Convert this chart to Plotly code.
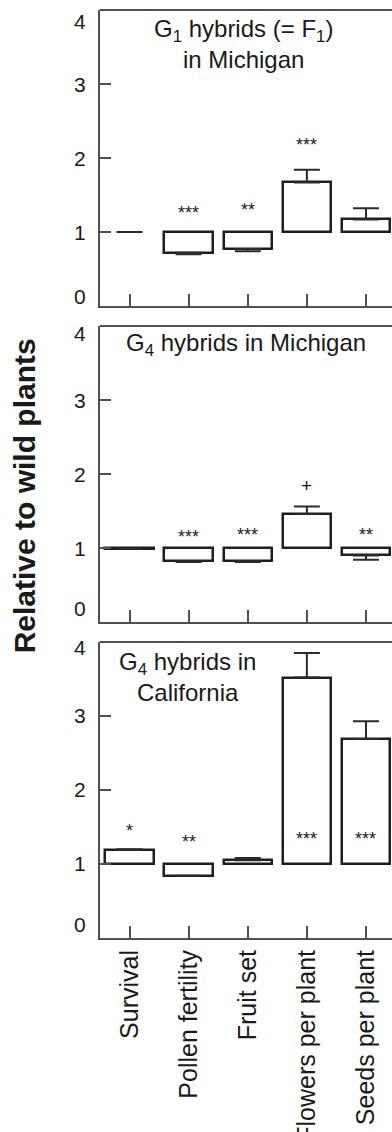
import plotly.graph_objects as go

categories = ["Survival", "Pollen fertility", "Fruit set", "Flowers per plant", "Seeds per plant"]
y_ticks = [0, 1, 2, 3, 4]

panel_titles = [
    "G<sub>1</sub> hybrids (= F<sub>1</sub>)<br>in Michigan",
    "G<sub>4</sub> hybrids in Michigan",
    "G<sub>4</sub> hybrids in<br>California",
]

# Relative values (hybrid / wild), standard errors, significance labels
g1_mi_values = [1.00, 0.72, 0.77, 1.67, 1.17]
g1_mi_err = [0.00, 0.02, 0.03, 0.17, 0.15]
g1_mi_sig = ["", "***", "**", "***", ""]
g1_mi_sig_y = [None, 1.32, 1.36, 2.25, None]

g4_mi_values = [0.99, 0.82, 0.82, 1.46, 0.90]
g4_mi_err = [0.00, 0.01, 0.01, 0.10, 0.06]
g4_mi_sig = ["", "***", "***", "+", "**"]
g4_mi_sig_y = [None, 1.22, 1.24, 1.85, 1.24]

g4_ca_values = [1.19, 0.84, 1.05, 3.52, 2.69]
g4_ca_err = [0.01, 0.00, 0.03, 0.33, 0.24]
g4_ca_sig = ["*", "**", "", "***", "***"]
g4_ca_sig_y = [1.52, 1.36, None, 1.41, 1.41]

panels = [
    (g1_mi_values, g1_mi_err, g1_mi_sig, g1_mi_sig_y),
    (g4_mi_values, g4_mi_err, g4_mi_sig, g4_mi_sig_y),
    (g4_ca_values, g4_ca_err, g4_ca_sig, g4_ca_sig_y),
]

FONT = "Liberation Sans, Arial, Helvetica, sans-serif"
AXIS_COL = "#505050"
BAR_COL = "#1e1e1e"
TXT = "#1a1a1a"
BASELINE = 1.0

domains = [[0.68103, 1.0], [0.34052, 0.65948], [0.0, 0.31897]]
title_pos = [(0.493, 0.885), (0.50, 0.936), (0.30, 0.882)]
# vertical pixel shifts of the end tick labels toward the panel interior
label_shift = [{4: -11, 0: 10}, {4: -7, 0: 13}, {4: -6, 0: 13}]

fig = go.Figure()
x_idx = list(range(len(categories)))

annotations = []
shapes = []
for p, (vals, errs, sig, sig_y) in enumerate(panels):
    sfx = "" if p == 0 else str(p + 1)
    xa, ya = "x" + sfx, "y" + sfx
    fig.add_trace(go.Bar(
        x=x_idx, y=[(v - BASELINE) if v != BASELINE else None for v in vals],
        base=BASELINE, width=0.82,
        marker=dict(color="white", line=dict(color=BAR_COL, width=2.5)),
        xaxis=xa, yaxis=ya, showlegend=False, hoverinfo="skip",
    ))
    up = [e if v >= BASELINE else 0 for v, e in zip(vals, errs)]
    dn = [e if v < BASELINE else 0 for v, e in zip(vals, errs)]
    fig.add_trace(go.Scatter(
        x=x_idx, y=vals, mode="markers",
        marker=dict(size=1, opacity=0),
        error_y=dict(type="data", symmetric=False, array=up, arrayminus=dn,
                     width=13, thickness=2, color="#2a2a2a"),
        xaxis=xa, yaxis=ya, showlegend=False, hoverinfo="skip",
    ))
    for i, s in enumerate(sig):
        if s:
            is_star = "*" in s
            annotations.append(dict(
                x=i, y=sig_y[i], xref=xa, yref=ya, text=s, showarrow=False,
                font=dict(family=FONT, size=18 if is_star else 19, color=TXT),
                xanchor="center", yanchor="middle",
                yshift=-5 if is_star else 0,
            ))
    tx, ty = title_pos[p]
    annotations.append(dict(
        x=tx, y=ty, xref=xa + " domain", yref=ya + " domain",
        text=panel_titles[p], showarrow=False, align="center",
        font=dict(family=FONT, size=24, color=TXT),
        xanchor="center", yanchor="middle",
    ))
    for t in y_ticks:
        annotations.append(dict(
            x=0, y=t, xref=xa + " domain", yref=ya, text=str(t), showarrow=False,
            font=dict(family=FONT, size=21, color=TXT),
            xanchor="right", yanchor="middle", xshift=-12,
            yshift=label_shift[p].get(t, 0),
        ))
    shapes.append(dict(type="line", xref=xa + " domain", yref=ya + " domain",
                       x0=0, x1=1, y0=1, y1=1,
                       line=dict(color=AXIS_COL, width=2)))

annotations.append(dict(
    x=-0.26, y=0.476, xref="paper", yref="paper",
    text="<b>Relative to wild plants</b>", textangle=-90, showarrow=False,
    font=dict(family=FONT, size=30, color=TXT),
    xanchor="center", yanchor="middle",
))

layout = dict(
    width=392, height=1132,
    margin=dict(l=100, r=0, t=10, b=194, pad=0),
    paper_bgcolor="white", plot_bgcolor="white",
    template="none",
    bargap=0,
    annotations=annotations, shapes=shapes,
    font=dict(family=FONT, color=TXT),
)
for p in range(3):
    sfx = "" if p == 0 else str(p + 1)
    layout["xaxis" + sfx] = dict(
        domain=[0, 1], anchor="y" + sfx, range=[-0.5, 4.44],
        tickmode="array", tickvals=x_idx, ticktext=categories,
        showticklabels=(p == 2), tickangle=-90,
        ticks="inside", ticklen=12, tickwidth=1.5, tickcolor=AXIS_COL,
        showline=True, linecolor=AXIS_COL, linewidth=2,
        showgrid=False, zeroline=False, automargin=False,
        tickfont=dict(family=FONT, size=25, color=TXT),
        ticklabelstandoff=0,
    )
    layout["yaxis" + sfx] = dict(
        domain=domains[p], anchor="x" + sfx, range=[0, 4],
        tickmode="array", tickvals=y_ticks,
        showticklabels=False,
        ticks="inside", ticklen=11, tickwidth=1.5, tickcolor=AXIS_COL,
        showline=True, linecolor=AXIS_COL, linewidth=2,
        showgrid=False, zeroline=False, automargin=False,
    )
fig.update_layout(**layout)

fig.write_html("out.html", config={"displayModeBar": False})
